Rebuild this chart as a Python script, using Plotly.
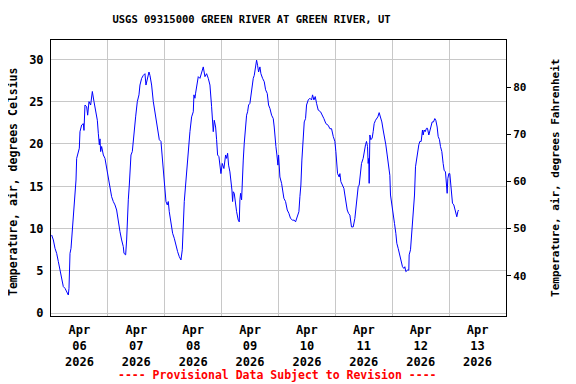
import pandas as pd
import plotly.graph_objects as go

# elapsed hours since 2026-04-06 00:00
elapsed_hours = [
    0.28, 0.99, 1.69, 2.39, 3.10, 3.80, 4.50, 5.20, 5.91, 6.61, 7.31, 7.59, 8.02, 8.44, 9.0, 9.42,
    10.12, 10.55, 10.83, 11.53, 11.95, 12.23, 12.94, 13.64, 13.92, 14.34, 15.05, 15.47, 16.03, 16.73,
    17.44, 18.14, 18.84, 19.55, 19.97, 20.39, 20.67, 20.95, 21.37, 22.08, 22.78, 23.48, 24.19, 24.89,
    25.59, 26.29, 27.0, 27.7, 28.4, 29.11, 29.81, 30.51, 30.79, 31.5, 31.92, 32.2, 32.62, 33.04, 33.32,
    33.75, 34.31, 34.73, 35.15, 35.71, 36.42, 37.12, 37.54, 38.25, 38.95, 39.65, 40.07, 40.64, 41.34,
    41.76, 42.46, 43.17, 43.87, 44.57, 45.28, 45.7, 46.4, 46.68, 47.1, 47.67, 48.09, 48.51, 49.07,
    49.49, 49.91, 50.62, 51.32, 52.02, 52.73, 53.43, 54.13, 54.84, 55.4, 55.82, 56.24, 56.8, 57.23,
    57.65, 58.21, 58.63, 59.34, 60.04, 60.32, 60.74, 61.02, 61.73, 62.15, 62.85,
    63.55, 64.26, 64.96, 65.66, 66.37, 67.07, 67.77, 68.19, 68.47, 68.9, 69.46, 69.88, 70.3, 70.86,
    71.29, 71.71, 72.27, 72.97, 73.68, 74.1, 74.52, 74.94, 75.5, 75.93, 76.35, 76.63, 76.91, 77.33,
    77.75, 78.32, 79.02, 79.44, 79.72, 80.0, 80.43, 80.71, 81.13, 81.55, 82.11, 82.53, 82.96, 83.38,
    83.94, 84.36, 84.92, 85.35, 85.77, 86.33, 86.75, 87.17, 87.6, 88.16, 88.58, 89.28, 89.99, 90.55,
    91.25, 91.81, 92.38, 93.08, 93.78, 94.2, 94.49, 94.91, 95.33, 95.75, 96.03, 96.59, 97.3, 97.72,
    98.28, 98.98, 99.69, 100.39, 101.09, 101.94, 102.64, 103.2, 103.9, 104.61, 105.03, 105.45, 105.87,
    106.44, 106.86, 107.42, 107.84, 108.55, 109.25, 109.95, 110.37, 110.94, 111.5, 112.06, 112.76,
    113.75, 114.59, 115.15, 116.0, 116.98, 117.68, 118.39, 119.09, 119.79, 120.21, 120.5, 120.92,
    121.62, 121.9, 122.32, 122.89, 123.59, 124.01, 124.43, 125.0, 125.56, 126.12,
    126.81, 127.52, 128.22, 128.64, 128.92, 129.63, 130.05, 130.61, 131.03, 131.73, 132.16, 132.72,
    133.14, 133.56, 133.84, 134.12, 134.26, 134.55, 134.97, 135.53, 135.95, 136.37, 136.94, 137.36,
    137.92, 138.48, 139.05, 139.61, 140.17, 140.73, 141.29, 141.86, 142.42, 142.98, 143.26, 143.83,
    144.39, 144.95, 145.51, 145.93, 146.5, 146.92, 147.48, 147.9, 148.32, 148.89, 149.31, 149.73,
    150.43, 150.99, 151.14, 151.7, 152.12, 152.54, 152.96, 153.39, 153.81, 154.23, 154.65, 155.21,
    155.64, 156.2, 156.76, 157.04, 157.46, 157.89, 158.45, 158.87, 159.43, 159.85, 160.28, 160.84,
    161.4, 161.96, 162.38, 162.95, 163.37, 163.93, 164.35, 164.92, 165.48, 165.9, 166.46, 166.88,
    167.17, 167.45, 167.87, 168.29, 168.71, 168.99, 169.41, 169.98, 170.4, 170.82, 171.24, 171.67,
    171.95,
]

temp_c = [
    9.25, 8.66, 7.67, 7.08, 6.1, 5.11, 4.13, 3.15, 2.95, 2.56, 2.16, 2.95, 7.08, 7.67, 9.64, 12.2,
    14.36, 15.74, 18.3, 18.9, 19.5, 21.45, 22.24, 22.4, 21.6, 24.6, 24.4, 23.4, 25.0, 24.6,
    26.2, 25.0, 24.0, 22.8, 21.26, 19.9, 20.6, 19.1, 19.7, 18.7, 18.3, 17.1, 16.1, 14.95,
    13.77, 13.2, 12.8, 12.2, 10.8, 9.64, 8.66, 7.87, 7.08, 6.9, 8.66, 11.2, 13.4, 15.15, 17.5,
    18.7, 19.1, 20.1, 21.65, 23.2, 25.0, 25.8, 26.96, 27.75, 28.1, 28.3, 26.96, 27.75, 28.5,
    28.1, 26.96, 25.0, 23.8, 22.6, 21.45, 20.5, 20.3, 19.3, 17.3, 16.3, 14.36, 13.2, 12.8,
    13.2, 12.0, 10.8, 9.45, 8.86, 7.87, 7.28, 6.69, 6.3, 7.5, 11.8, 13.2, 15.15, 16.9,
    17.9, 19.7, 21.45, 23.2, 23.8, 25.8, 25.4, 26.0, 27.35, 27.95, 27.75,
    28.5, 29.1, 27.95, 28.3, 27.75, 26.96, 24.4, 22.8, 21.45, 22.8, 22.0, 20.5, 18.7, 18.5,
    17.1, 16.5, 17.7, 17.1, 18.7, 18.3, 18.9, 17.5, 16.7, 15.74, 14.56, 13.2, 14.36, 14.17,
    13.0, 12.0, 11.0, 10.8, 13.4, 14.17, 13.4, 16.5, 18.1, 20.1, 22.0, 23.4, 23.8, 24.6,
    24.8, 25.8, 26.76, 27.75, 28.1, 28.9, 29.9, 29.3, 28.5, 29.1, 28.3, 27.75, 27.35, 26.4,
    25.97, 24.6, 24.2, 23.4, 23.0, 22.0, 20.5, 19.7, 18.7, 17.5, 18.7, 16.1, 15.35, 14.56,
    13.58, 13.2, 12.2, 11.8, 11.2, 11.0, 11.0, 10.8, 11.4, 12.0, 13.77, 15.15, 18.1,
    20.5, 22.6, 23.0, 24.6, 25.2, 25.4, 25.2, 25.8, 25.2, 25.6, 24.8, 24.0,
    23.8, 23.4, 23.0, 22.4, 22.2, 21.8, 21.8, 20.9, 20.3, 19.1, 17.5, 16.5,
    16.1, 16.5, 15.55, 15.15, 14.76, 13.97, 13.0, 12.2, 11.8, 11.6,
    10.2, 10.2, 11.2, 12.4, 13.77, 14.95, 15.15, 16.9, 17.7, 18.3, 19.3, 19.9,
    20.3, 19.7, 17.7, 18.3, 15.35, 21.06, 20.5, 20.7, 21.45, 22.4, 22.8, 23.0,
    23.2, 23.7, 23.2, 22.6, 21.65, 20.9, 19.9, 18.7, 17.3, 16.3, 13.97, 13.0,
    11.8, 10.6, 9.45, 8.27, 7.67, 7.08, 6.69, 6.1, 5.5, 5.3, 5.5, 4.92,
    5.1, 5.1, 6.9, 7.5, 8.86, 10.8, 12.2, 13.97, 17.3, 18.3, 19.3, 19.9,
    20.3, 20.3, 21.65, 21.06, 21.65, 21.45, 21.85, 21.85, 21.06, 21.45, 21.85, 22.6,
    22.6, 23.0, 22.8, 22.0, 20.9, 20.5, 19.7, 19.1, 17.7, 16.9, 16.7, 15.35,
    14.17, 15.9, 16.5, 16.5, 15.35, 13.77, 13.0, 12.8, 12.4, 11.8, 11.4, 12.0,
    12.2,
]

day_label_positions = ["2026-04-%02d 12:00" % d for d in range(6, 14)]
day_labels = ["Apr<br>%02d<br>2026" % d for d in range(6, 14)]
y_ticks_c = [0, 5, 10, 15, 20, 25, 30]
y_ticks_f = [40, 50, 60, 70, 80]

title_text = "USGS 09315000 GREEN RIVER AT GREEN RIVER, UT"
left_title = "Temperature, air, degrees Celsius"
right_title = "Temperature, air, degrees Fahrenheit"
footer = "---- Provisional Data Subject to Revision ----"

start = pd.Timestamp("2026-04-06 00:00")
times = start + pd.to_timedelta(elapsed_hours, unit="h")

c_range = [-0.32, 32.28]
f_range = [c * 9 / 5 + 32 for c in c_range]

FONT = "DejaVu Sans Mono"
GRID = "#C8C8C8"

# the page body adds an 8px offset; size the figure so it fits the 576x384 window
W, H = 568, 376
OFF = 8

fig = go.Figure()
fig.add_trace(go.Scatter(x=times, y=temp_c, mode="lines",
                         line=dict(color="#0000FF", width=1), showlegend=False))
# invisible trace to activate the right axis
fig.add_trace(go.Scatter(x=[times[0]], y=[f_range[0]], yaxis="y2", mode="markers",
                         marker=dict(opacity=0), showlegend=False, hoverinfo="skip"))

fig.update_layout(
    width=W, height=H,
    margin=dict(l=51 - OFF, r=70, t=40 - OFF, b=68, autoexpand=False),
    paper_bgcolor="white", plot_bgcolor="white",
    font=dict(family=FONT, size=12, color="black", weight="bold"),
    title=dict(text=title_text, x=(251.5 - OFF) / W, xanchor="center", y=1 - (19 - OFF) / H,
               yanchor="middle", font=dict(family=FONT, size=10.5, color="black", weight="bold")),
    xaxis=dict(
        type="date",
        range=["2026-04-06 00:00", "2026-04-14 00:00"],
        tickmode="array", tickvals=day_label_positions, ticktext=day_labels,
        showgrid=False, ticks="outside", ticklen=3, tickcolor="white",
        minor=dict(tick0="2026-04-06", dtick=86400000, showgrid=True,
                   gridcolor=GRID, gridwidth=1, ticks=""),
        showline=True, mirror=True, linecolor="black", linewidth=1,
        tickfont=dict(family=FONT, size=12, color="black", weight="bold"),
    ),
    yaxis=dict(
        range=c_range, tickmode="array", tickvals=y_ticks_c,
        showgrid=True, gridcolor=GRID, gridwidth=1, zeroline=False,
        showline=True, mirror=True, linecolor="black", linewidth=1,
        ticks="outside", ticklen=4, tickcolor="white",
        tickfont=dict(family=FONT, size=12, color="black", weight="bold"),
    ),
    yaxis2=dict(
        range=f_range, overlaying="y", side="right", tickmode="array", tickvals=y_ticks_f,
        showgrid=False, zeroline=False, showline=False,
        ticks="outside", ticklen=4, tickcolor="black",
        tickfont=dict(family=FONT, size=11, color="black", weight="bold"),
    ),
    annotations=[
        dict(text=left_title, xref="paper", yref="paper", x=(13 - 51) / 455.5,
             y=(316 - 182) / 276, textangle=-90, showarrow=False,
             xanchor="center", yanchor="middle",
             font=dict(family=FONT, size=11.5, color="black", weight="bold")),
        dict(text=right_title, xref="paper", yref="paper", x=(556 - 51) / 455.5,
             y=(316 - 177.5) / 276, textangle=-90, showarrow=False,
             xanchor="center", yanchor="middle",
             font=dict(family=FONT, size=11, color="black", weight="bold")),
        dict(text=footer, xref="paper", yref="paper", x=(277.5 - 51) / 455.5,
             y=(316 - 375) / 276, showarrow=False, xanchor="center", yanchor="middle",
             font=dict(family=FONT, size=11.5, color="#FF0000", weight="bold")),
    ],
)

fig.write_html("out.html")
